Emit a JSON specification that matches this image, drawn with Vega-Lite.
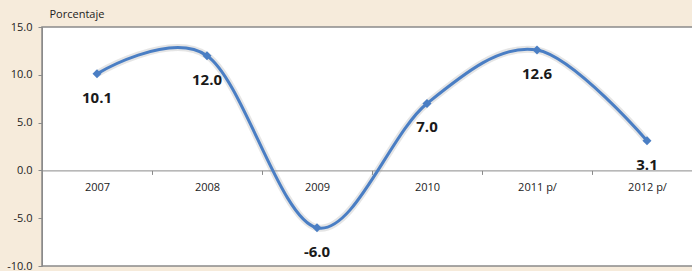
{
  "$schema": "https://vega.github.io/schema/vega-lite/v6.json",
  "autosize": "none",
  "width": 660,
  "height": 239,
  "padding": {"left": 42, "top": 27, "right": 0, "bottom": 5},
  "background": "#f6ebdb",
  "config": {
    "view": {"fill": "white", "stroke": "#8a8a8a", "strokeWidth": 1.5},
    "font": "Open Sans",
    "locale": {
      "number": {"decimal": ".", "thousands": ",", "grouping": [3], "currency": ["$", ""], "minus": "-"}
    }
  },
  "data": {
    "values": [
      {"year": "2007", "value": 10.1},
      {"year": "2008", "value": 12.0},
      {"year": "2009", "value": -6.0},
      {"year": "2010", "value": 7.0},
      {"year": "2011 p/", "value": 12.6},
      {"year": "2012 p/", "value": 3.1}
    ]
  },
  "encoding": {
    "x": {
      "field": "year",
      "type": "nominal",
      "sort": null,
      "scale": {"paddingInner": 0, "paddingOuter": 0},
      "axis": {
        "title": null,
        "labelAngle": 0,
        "offset": -95.6,
        "domainColor": "#8a8a8a",
        "tickColor": "#8a8a8a",
        "tickBand": "extent",
        "tickSize": 4,
        "labelPadding": 7,
        "labelFontSize": 11,
        "labelColor": "#222",
        "labelFont": "Open Sans"
      }
    },
    "y": {
      "field": "value",
      "type": "quantitative",
      "scale": {"domain": [-10, 15], "nice": false},
      "axis": {
        "values": [-10, -5, 0, 5, 10, 15],
        "format": ".1f",
        "grid": false,
        "title": "Porcentaje",
        "titleAngle": 0,
        "titleAlign": "left",
        "titleBaseline": "alphabetic",
        "titleX": 7,
        "titleY": -10,
        "titleFontWeight": "normal",
        "titleFontSize": 11,
        "titleColor": "#222",
        "titleFont": "Open Sans",
        "domainColor": "#8a8a8a",
        "tickColor": "#8a8a8a",
        "tickSize": 4,
        "labelPadding": 6,
        "labelFontSize": 11,
        "labelColor": "#222",
        "labelFont": "Open Sans"
      }
    }
  },
  "layer": [
    {
      "mark": {"type": "line", "interpolate": "cardinal", "tension": 0, "color": "#999", "strokeWidth": 7, "opacity": 0.25}
    },
    {
      "mark": {"type": "line", "interpolate": "cardinal", "tension": 0, "color": "#4a7ec4", "strokeWidth": 3}
    },
    {
      "mark": {"type": "point", "shape": "diamond", "filled": true, "color": "#4a7ec4", "size": 80, "opacity": 1}
    },
    {
      "mark": {"type": "text", "dy": 24, "fontSize": 15, "fontWeight": "bold", "color": "#1a1a1a", "font": "Open Sans"},
      "encoding": {"text": {"field": "value", "type": "quantitative", "format": ".1f"}}
    }
  ]
}
